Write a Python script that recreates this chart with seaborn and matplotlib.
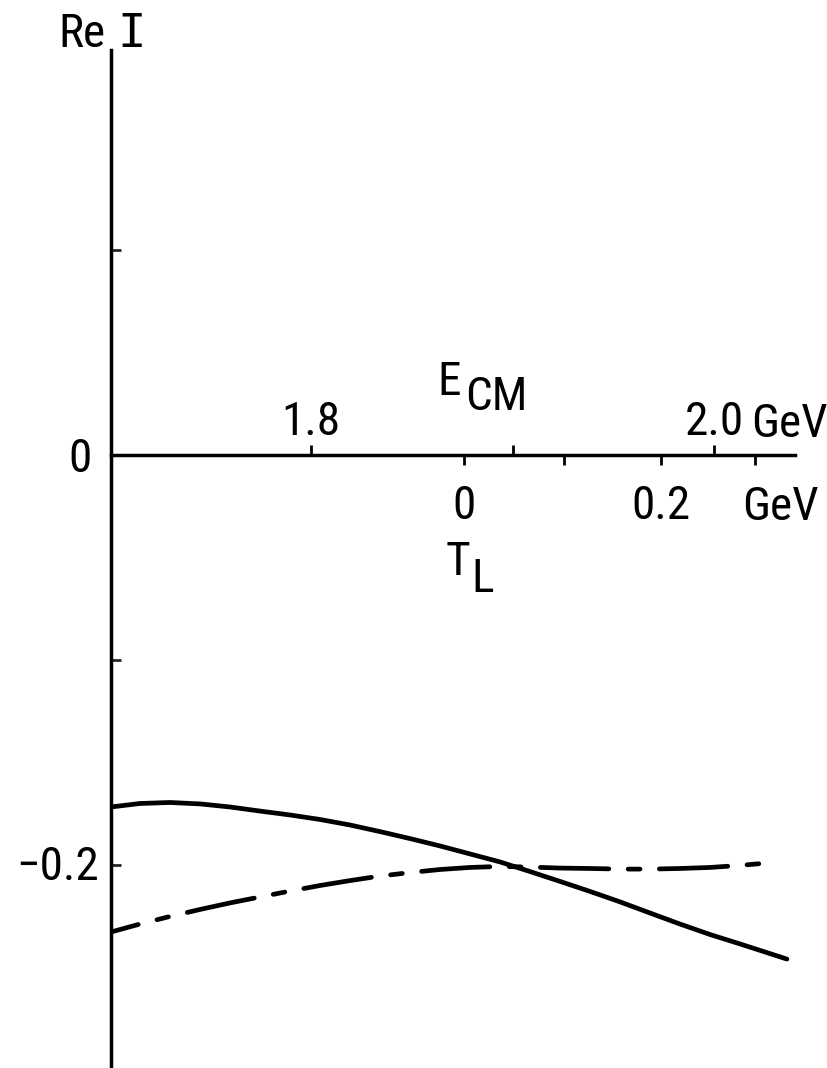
import numpy as np
import pandas as pd
import matplotlib
matplotlib.use("Agg")
import matplotlib.pyplot as plt
import seaborn as sns

# ---- data ----
# centre-of-mass energy (GeV) along the axis, and Re I values
e_solid = [1.7007, 1.7151, 1.7300, 1.7449, 1.7598, 1.7747, 1.7896, 1.8045, 1.8194,
           1.8342, 1.8491, 1.8640, 1.8789, 1.8938, 1.9087, 1.9236, 1.9385, 1.9534,
           1.9682, 1.9831, 1.9980, 2.0129, 2.0362]
re_solid = [-0.1717, -0.1700, -0.1695, -0.1702, -0.1717, -0.1737, -0.1756, -0.1778, -0.1805,
            -0.1837, -0.1871, -0.1907, -0.1946, -0.1985, -0.2032, -0.2080, -0.2129, -0.2180,
            -0.2234, -0.2288, -0.2339, -0.2385, -0.2459]

e_dashed = [1.7007, 1.7151, 1.7300, 1.7449, 1.7598, 1.7747, 1.7896, 1.8045, 1.8194,
            1.8342, 1.8491, 1.8640, 1.8789, 1.8938, 1.9087, 1.9236, 1.9385, 1.9534,
            1.9682, 1.9831, 1.9980, 2.0129, 2.0268]
re_dashed = [-0.2327, -0.2288, -0.2251, -0.2217, -0.2185, -0.2156, -0.2127, -0.2100, -0.2076,
             -0.2054, -0.2037, -0.2022, -0.2012, -0.2007, -0.2010, -0.2015, -0.2017, -0.2020,
             -0.2020, -0.2017, -0.2012, -0.2002, -0.1990]

ecm_ticks = [1.8, 1.9, 2.0]
ecm_labels = ["1.8", "", "2.0"]
tl_ticks = [0.0, 0.1, 0.2, 0.3]
tl_labels = ["0", "", "0.2", ""]
y_ticks = [0.1, -0.1, -0.2]

M_P = 0.938  # proton mass, GeV (for the T_L <-> E_CM scale)

df = pd.concat([
    pd.DataFrame({"E": e_solid, "ReI": re_solid, "curve": "solid"}),
    pd.DataFrame({"E": e_dashed, "ReI": re_dashed, "curve": "dashed"}),
], ignore_index=True)

sns.set_style("white")
plt.rcParams["font.family"] = ["Roboto Condensed", "Roboto", "DejaVu Sans"]
plt.rcParams["text.color"] = "black"
FS = 34

fig = plt.figure(figsize=(8.27, 10.68), dpi=100)
ax = fig.add_axes([111 / 827, 2 / 1068, 684 / 827, 1016 / 1068])

dash_seq = (14.5, 4.1, 2.5, 4.1)
sns.lineplot(data=df, x="E", y="ReI", style="curve", sort=False, estimator=None,
             dashes={"solid": "", "dashed": dash_seq}, color="black",
             linewidth=3.4, legend=False, ax=ax)
for ln in ax.get_lines():
    ln.set_solid_capstyle("round")
    ln.set_dash_capstyle("round")
    ln.set_solid_joinstyle("round")
ax.get_lines()[1].set_linestyle((8.5, dash_seq))

ax.set_xlim(1.70074, 2.04020)
ax.set_ylim(-0.29805, 0.19756)
ax.set_xlabel("")
ax.set_ylabel("")

for s in ["bottom", "right"]:
    ax.spines[s].set_visible(False)
ax.spines["top"].set_position(("data", 0))
for s in ["top", "left"]:
    ax.spines[s].set_visible(True)
    ax.spines[s].set_color("black")
    ax.spines[s].set_linewidth(2.5)

ax.xaxis.set_ticks_position("top")
ax.set_xticks(ecm_ticks, labels=ecm_labels)
ax.tick_params(axis="x", direction="out", length=7, width=2, pad=1,
               labelsize=FS, colors="black")
ax.yaxis.set_ticks_position("left")
ax.set_yticks(y_ticks)
ax.tick_params(axis="y", direction="in", length=7, width=2, labelleft=False)


def e_to_t(e):
    e = np.asarray(e, dtype=float)
    return (e ** 2 - 4 * M_P ** 2) / (2 * M_P)


def t_to_e(t):
    t = np.asarray(t, dtype=float)
    return np.sqrt(np.maximum(4 * M_P ** 2 + 2 * M_P * t, 1e-9))


sec = ax.secondary_xaxis(0, functions=(e_to_t, t_to_e), transform=ax.transData)
sec.set_xticks(tl_ticks, labels=tl_labels)
sec.tick_params(axis="x", direction="out", length=7, width=2, pad=14,
                labelsize=FS, colors="black")
for s in sec.spines.values():
    s.set_visible(False)

# text labels
ax.text(1.6744, 0.1990, "Re", fontsize=FS, ha="left", va="baseline")
ax.text(1.7109, 0.1990, "I", fontsize=FS, ha="center", va="baseline",
        family=["DejaVu Sans Mono"])
ax.text(1.8625, 0.0293, "E", fontsize=FS, ha="left", va="baseline")
ax.text(1.8764, 0.0220, "CM", fontsize=FS, ha="left", va="baseline")
ax.text(2.0184, 0.0088, "GeV", fontsize=FS, ha="left", va="baseline")
ax.text(2.0139, -0.0317, "GeV", fontsize=FS, ha="left", va="baseline")
ax.text(1.8670, -0.0585, "T", fontsize=FS, ha="left", va="baseline")
ax.text(1.8794, -0.0668, "L", fontsize=FS, ha="left", va="baseline")
ax.text(1.6913, -0.0083, "0", fontsize=FS, ha="right", va="baseline")
ax.text(1.6948, -0.2073, "\u22120.2", fontsize=FS, ha="right", va="baseline")

fig.savefig("out.png", dpi=100)
